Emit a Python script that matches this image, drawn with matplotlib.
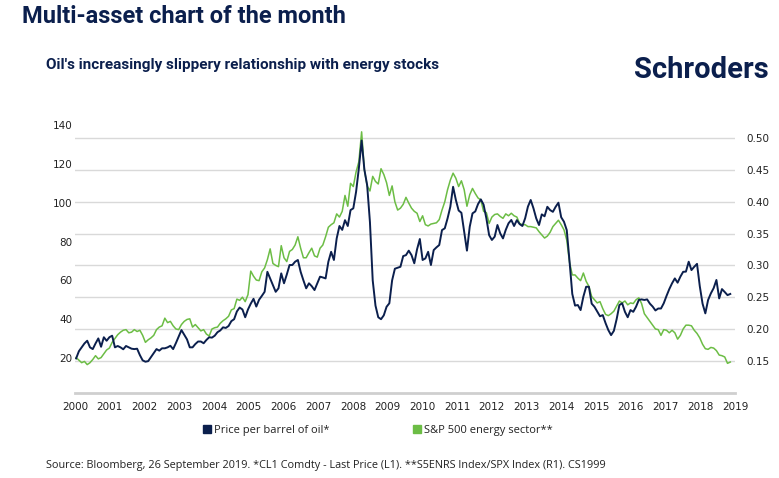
import numpy as np
import matplotlib.pyplot as plt
from matplotlib.lines import Line2D

# monthly data, Jan 2000 - Sep 2019
oil_price = [
    # 2000
    19.8, 23.5, 25.5, 27.5, 28.9, 25.5, 24.6, 27.5, 30.1, 25.8, 30.7, 28.9,
    # 2001
    30.7, 31.5, 25.5, 26.2, 25.5, 24.5, 26.2, 25.5, 24.8, 24.6, 24.8, 21.5,
    # 2002
    18.8, 18.1, 18.4, 20.5, 22.5, 24.6, 23.8, 25.0, 25.0, 25.5, 26.3, 24.6,
    # 2003
    27.7, 31.0, 34.4, 32.0, 29.6, 25.5, 25.5, 27.2, 28.5, 28.5, 27.6, 29.3,
    # 2004
    30.7, 30.5, 31.5, 33.3, 34.2, 35.8, 35.5, 36.5, 39.0, 40.0, 44.0, 46.0,
    # 2005
    45.0, 41.0, 45.0, 48.0, 50.5, 46.5, 50.0, 52.0, 54.1, 64.4, 61.0, 57.5,
    # 2006
    54.1, 55.9, 63.6, 58.5, 63.0, 67.9, 67.9, 69.6, 70.5, 64.4, 60.0, 55.9,
    # 2007
    58.5, 57.0, 55.0, 58.5, 61.9, 61.5, 61.0, 69.6, 74.7, 70.5, 81.6, 88.0,
    # 2008
    86.0, 91.0, 88.0, 96.2, 97.1, 105.6, 117.7, 132.0, 117.0, 109.0, 90.0, 60.0,
    # 2009
    47.0, 41.0, 40.0, 42.0, 46.4, 48.2, 60.0, 66.0, 66.5, 67.0, 72.5, 73.0,
    # 2010
    75.3, 73.0, 68.8, 76.0, 81.3, 70.5, 71.3, 74.7, 67.9, 75.6, 77.0, 78.2,
    # 2011
    85.9, 86.8, 91.9, 97.9, 108.2, 101.4, 96.0, 94.8, 85.0, 75.3, 87.6, 94.5,
    # 2012
    95.5, 99.3, 101.7, 99.0, 92.0, 83.3, 80.8, 82.5, 88.5, 84.2, 81.6, 86.0,
    # 2013
    89.4, 91.1, 88.0, 91.0, 89.0, 88.0, 92.0, 98.0, 101.4, 97.1, 91.9, 88.5,
    # 2014
    94.0, 93.0, 97.9, 96.2, 95.3, 97.9, 100.0, 92.5, 90.2, 85.9, 70.0, 53.0,
    # 2015
    47.0, 47.3, 44.7, 51.6, 56.7, 56.7, 48.0, 46.4, 44.0, 41.5, 42.1, 38.0,
    # 2016
    34.4, 31.8, 34.0, 40.0, 47.3, 48.2, 43.8, 41.0, 44.7, 43.8, 46.4, 49.9,
    # 2017
    50.2, 49.9, 50.2, 48.0, 46.5, 44.5, 45.5, 45.5, 48.2, 52.0, 55.5, 58.5,
    # 2018
    61.0, 58.8, 61.9, 64.4, 64.5, 69.6, 65.3, 67.0, 68.5, 57.0, 48.0, 43.0,
    # 2019
    49.9, 53.3, 56.0, 60.2, 50.7, 55.5, 54.0, 52.4, 53.0,
]

energy_ratio = [
    # 2000
    0.155, 0.151, 0.147, 0.149, 0.144, 0.147, 0.152, 0.158, 0.153, 0.155, 0.161, 0.167,
    # 2001
    0.170, 0.179, 0.185, 0.191, 0.195, 0.198, 0.199, 0.194, 0.195, 0.199, 0.196, 0.198,
    # 2002
    0.190, 0.179, 0.183, 0.186, 0.190, 0.199, 0.203, 0.205, 0.217, 0.210, 0.212, 0.205,
    # 2003
    0.200, 0.199, 0.207, 0.212, 0.215, 0.216, 0.203, 0.207, 0.202, 0.197, 0.199, 0.192,
    # 2004
    0.189, 0.200, 0.202, 0.203, 0.209, 0.213, 0.216, 0.220, 0.230, 0.232, 0.247, 0.245,
    # 2005
    0.250, 0.243, 0.254, 0.291, 0.283, 0.277, 0.276, 0.290, 0.296, 0.309, 0.326, 0.303,
    # 2006
    0.300, 0.298, 0.331, 0.312, 0.306, 0.322, 0.325, 0.332, 0.345, 0.327, 0.312, 0.312,
    # 2007
    0.320, 0.327, 0.315, 0.313, 0.327, 0.332, 0.345, 0.360, 0.364, 0.367, 0.381, 0.376,
    # 2008
    0.385, 0.410, 0.393, 0.429, 0.424, 0.447, 0.463, 0.510, 0.450, 0.425, 0.417, 0.440,
    # 2009
    0.432, 0.428, 0.452, 0.443, 0.430, 0.410, 0.425, 0.400, 0.387, 0.390, 0.396, 0.407,
    # 2010
    0.398, 0.390, 0.385, 0.382, 0.369, 0.378, 0.364, 0.362, 0.365, 0.366, 0.367, 0.372,
    # 2011
    0.387, 0.400, 0.419, 0.434, 0.445, 0.437, 0.424, 0.433, 0.419, 0.393, 0.411, 0.421,
    # 2012
    0.413, 0.406, 0.403, 0.385, 0.383, 0.366, 0.376, 0.380, 0.381, 0.377, 0.374, 0.381,
    # 2013
    0.378, 0.382, 0.378, 0.376, 0.366, 0.364, 0.364, 0.361, 0.361, 0.360, 0.359, 0.353,
    # 2014
    0.348, 0.343, 0.346, 0.352, 0.361, 0.366, 0.371, 0.364, 0.356, 0.340, 0.305, 0.285,
    # 2015
    0.285, 0.280, 0.276, 0.288, 0.275, 0.267, 0.251, 0.246, 0.241, 0.243, 0.232, 0.223,
    # 2016
    0.221, 0.224, 0.228, 0.236, 0.244, 0.241, 0.244, 0.238, 0.241, 0.240, 0.246, 0.249,
    # 2017
    0.240, 0.224, 0.218, 0.212, 0.206, 0.200, 0.199, 0.190, 0.199, 0.198, 0.194, 0.198,
    # 2018
    0.194, 0.184, 0.190, 0.200, 0.206, 0.206, 0.205, 0.198, 0.193, 0.186, 0.176, 0.169,
    # 2019
    0.168, 0.171, 0.170, 0.166, 0.159, 0.158, 0.156, 0.146, 0.148,
]

year_labels = [str(y) for y in range(2000, 2020)]
left_ticks = [20, 40, 60, 80, 100, 120, 140]
right_ticks = [0.15, 0.20, 0.25, 0.30, 0.35, 0.40, 0.45, 0.50]

navy = '#0b1f4d'
green = '#6cbd45'
grid_col = '#d9d9d9'
text_col = '#222222'

months = np.arange(len(oil_price))

fig = plt.figure(figsize=(7.79, 4.78), dpi=100)
ax = fig.add_axes([0.0963, 0.1787, 0.8472, 0.5987])
ax2 = ax.twinx()

# gridlines follow the right-hand scale
for t in right_ticks:
    ax2.axhline(t, color=grid_col, lw=1.0, zorder=0)

ax2.plot(months, energy_ratio, color=green, lw=1.1)
ax.plot(months, oil_price, color=navy, lw=1.4)

# oil line above the green one
ax.set_zorder(ax2.get_zorder() + 1)
ax.patch.set_visible(False)

xlim = (-0.4, 237.7)
ax.set_xlim(*xlim)
ax.set_ylim(2.2, 149.6)
ax2.set_ylim(0.10, 0.55)

ax.set_xticks(np.linspace(xlim[0], xlim[1], len(year_labels)))
ax.set_xticklabels(year_labels)
ax.set_yticks(left_ticks)
ax.set_yticklabels([str(t) for t in left_ticks])
ax2.set_yticks(right_ticks)
ax2.set_yticklabels(['%.2f' % t for t in right_ticks])

for a in (ax, ax2):
    for s in ('top', 'left', 'right', 'bottom'):
        a.spines[s].set_visible(False)
ax.spines['bottom'].set_visible(True)
ax.spines['bottom'].set_color('#cfcfcf')
ax.spines['bottom'].set_linewidth(2.0)

ax.tick_params(axis='x', length=0, pad=7, labelsize=7.5, labelcolor=text_col)
ax.tick_params(axis='y', length=0, pad=2, labelsize=7.5, labelcolor=text_col)
ax2.tick_params(axis='y', length=0, pad=8, labelsize=7.5, labelcolor=text_col)

fig.text(0.028, 0.966, 'Multi-asset chart of the month', fontsize=17,
         fontweight='bold', family='Roboto', color=navy, va='center')
fig.text(0.059, 0.864, "Oil's increasingly slippery relationship with energy stocks",
         fontsize=11, fontweight='bold', family='Roboto', color=navy, va='center')
fig.text(0.987, 0.853, 'Schroders', fontsize=21, fontweight='bold',
         family='Roboto', color=navy, va='center', ha='right')

handles = [
    Line2D([], [], marker='s', ls='none', color=navy, markersize=6),
    Line2D([], [], marker='s', ls='none', color=green, markersize=6),
]
fig.legend(handles, ['Price per barrel of oil*', 'S&P 500 energy sector**'],
           loc='center', bbox_to_anchor=(0.484, 0.100), ncol=2, frameon=False,
           prop={'family': 'Open Sans', 'size': 8}, handletextpad=0.15,
           columnspacing=7.3, handlelength=1.0, labelcolor=text_col)

fig.text(0.059, 0.027,
         'Source: Bloomberg, 26 September 2019. *CL1 Comdty - Last Price (L1). '
         '**S5ENRS Index/SPX Index (R1). CS1999',
         fontsize=7.8, family='Open Sans', color=text_col, va='center')

fig.savefig('out.png', dpi=100)
